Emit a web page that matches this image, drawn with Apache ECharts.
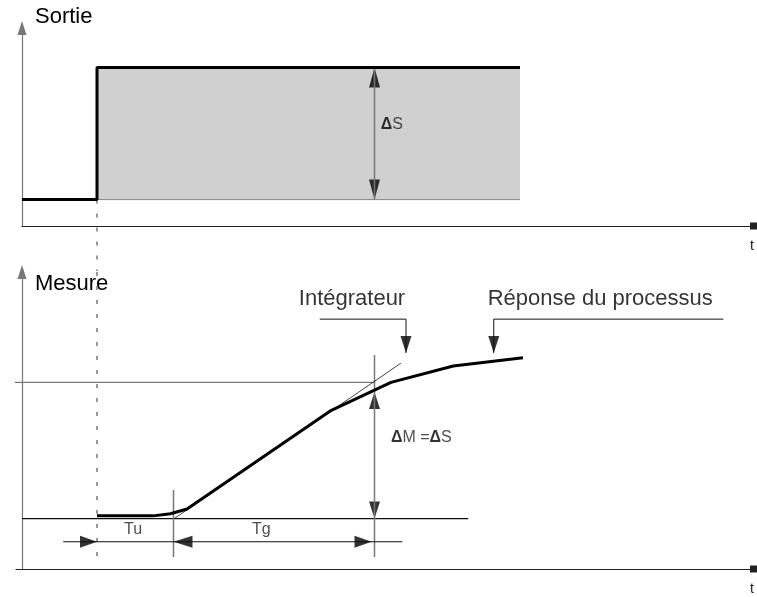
<!DOCTYPE html>
<html>
<head>
<meta charset="utf-8">
<title>Sortie / Mesure</title>
<script src="https://cdn.jsdelivr.net/npm/echarts@6/dist/echarts.min.js"></script>
<style>
  html, body { margin: 0; padding: 0; background: #fff; }
  #chart { width: 757px; height: 597px; }
</style>
</head>
<body>
<div id="chart"></div>
<script>
/* =========================================
   1. DATA (time t, output S, measure M)
   ========================================= */
const stepTime = 10;          // instant of the output step (dashed line)
const holdEnd = 66.4;         // end of the shaded output step
const outLow = 1;
const outHigh = 6;            // deltaS = 5
const outputStep = [[0, outLow], [stepTime, outLow], [stepTime, outHigh], [holdEnd, outHigh]];

const measLow = 1.85;
const measHigh = 6.85;        // deltaM = deltaS
const response = [
  [10, 1.95], [17.5, 1.95], [19.8, 2.03], [22, 2.2],
  [41.1, 5.8], [49.2, 6.85], [57.5, 7.45], [66.8, 7.75]
];
const integrator = [[20.3, 1.85], [50.5, 7.55]];

const tuEnd = 20.2;           // end of Tu / start of Tg
const tgEnd = 47;             // end of Tg, where deltaM is measured
const dimLevel = 1.0;         // level of the Tu / Tg dimension line
const leaderLevel = 9.17;
const leaderTip = 7.93;
const integratorLeader = [[39.7, leaderLevel], [51.2, leaderLevel], [51.2, leaderTip]];
const responseLeader = [[93.5, leaderLevel], [62.9, leaderLevel], [62.9, leaderTip]];

const topLabels = [{ name: "{d|Δ}S", value: [49.3, 3.86] }];
const bottomLabels = [
  { name: "Intégrateur", value: [44, 9.9], big: true },
  { name: "Réponse du processus", value: [77.1, 9.9], big: true },
  { name: "{d|Δ}M ={d|Δ}S", value: [49.2, 4.81], left: true },
  { name: "Tu", value: [14.8, 1.43] },
  { name: "Tg", value: [31.9, 1.43] }
];

/* =========================================
   2. HELPERS
   ========================================= */
const GRAY = "#777";

function seg(id, grid, points, color, width, extra) {
  return Object.assign({
    id: id,
    type: "line",
    xAxisIndex: grid,
    yAxisIndex: grid,
    data: points,
    symbol: "none",
    clip: false,
    silent: true,
    animation: false,
    lineStyle: { color: color, width: width }
  }, extra || {});
}

// arrow head: tip sits on the data point
function head(t, v, dir, w, h) {
  const rot = { up: 0, down: 180, left: 90, right: -90 }[dir];
  const off = {
    up: [0, h / 2], down: [0, -h / 2], left: [h / 2, 0], right: [-h / 2, 0]
  }[dir];
  return { value: [t, v], symbolRotate: rot, symbolOffset: off, symbolSize: [w, h] };
}

function labelSeries(id, grid, items) {
  return {
    id: id,
    type: "scatter",
    xAxisIndex: grid,
    yAxisIndex: grid,
    symbolSize: 0,
    silent: true,
    animation: false,
    data: items.map((d) => ({
      name: d.name,
      value: d.value,
      label: {
        show: true,
        position: "inside",
        formatter: "{b}",
        align: d.left ? "left" : "center",
        verticalAlign: "middle",
        fontFamily: "Liberation Sans, Arial, sans-serif",
        fontSize: d.big ? 22 : 16,
        color: d.big ? "#000" : "#222",
        rich: {
          d: { fontWeight: "bold", fontSize: 16, color: "#000", fontFamily: "Liberation Sans, Arial, sans-serif" }
        }
      }
    }))
  };
}

/* =========================================
   3. CHART
   ========================================= */
function initChart() {
  const chart = echarts.init(document.getElementById("chart"), null, { renderer: "canvas" });

  const font = "Liberation Sans, Arial, sans-serif";
  const xBase = {
    type: "value",
    max: 98,
    splitLine: { show: false },
    axisTick: { show: false },
    axisLabel: { show: false },
    axisLine: {
      lineStyle: { color: "#222", width: 1.2 },
      symbol: ["none", "rect"],
      symbolSize: [7, 7],
      symbolOffset: [0, -3.5]
    },
    name: "t",
    nameLocation: "end",
    nameGap: -5,
    nameTextStyle: {
      fontFamily: font, fontSize: 14, color: "#222",
      align: "center", verticalAlign: "top", padding: [13, 0, 0, 0]
    }
  };
  const yBase = {
    type: "value",
    min: 0,
    splitLine: { show: false },
    axisTick: { show: false },
    axisLabel: { show: false },
    axisLine: {
      onZero: true,
      lineStyle: { color: GRAY, width: 1.2 },
      symbol: ["none", "triangle"],
      symbolSize: [9, 14]
    },
    nameLocation: "end",
    nameTextStyle: {
      fontFamily: font, fontSize: 22, color: "#000",
      align: "left", verticalAlign: "middle", padding: [0, 0, 0, 13]
    }
  };

  const option = {
    backgroundColor: "#fff",
    animation: false,
    grid: [
      { left: 22, top: 28, width: 735, height: 198 },
      { left: 16, top: 272, width: 741, height: 297 }
    ],
    xAxis: [
      Object.assign({}, xBase, { gridIndex: 0, min: 0 }),
      Object.assign({}, xBase, { gridIndex: 1, min: -0.8 })
    ],
    yAxis: [
      Object.assign({}, yBase, { gridIndex: 0, max: 7.5, name: "Sortie", nameGap: 11 }),
      Object.assign({}, yBase, { gridIndex: 1, max: 10.9, name: "Mesure", nameGap: -12 })
    ],
    series: [
      // ---- top panel: output step ----
      seg("fillEdge", 0, [[stepTime, outLow], [holdEnd, outLow]], "#888", 1, {
        markArea: {
          silent: true,
          itemStyle: { color: "#d0d0d0" },
          data: [[{ coord: [stepTime, outLow] }, { coord: [holdEnd, outHigh] }]]
        }
      }),
      seg("dashTop", 0, [[stepTime, outLow], [stepTime, -1.7]], GRAY, 1.5, {
        lineStyle: { color: GRAY, width: 1.5, type: [4, 10] }
      }),
      seg("deltaS", 0, [[tgEnd, outLow], [tgEnd, outHigh]], GRAY, 1.5),
      seg("step", 0, outputStep, "#000", 3),
      {
        id: "headsTop", type: "scatter", xAxisIndex: 0, yAxisIndex: 0,
        symbol: "triangle", silent: true, itemStyle: { color: "#000" },
        data: [head(tgEnd, outHigh, "up", 11, 20), head(tgEnd, outLow, "down", 11, 20)]
      },
      labelSeries("labelsTop", 0, topLabels),

      // ---- bottom panel: measure response ----
      seg("dashBottom", 1, [[stepTime, 10.9], [stepTime, 0.44]], GRAY, 1.5, {
        lineStyle: { color: GRAY, width: 1.5, type: [4, 10] }
      }),
      seg("highLevel", 1, [[-1.6, measHigh], [tgEnd, measHigh]], GRAY, 1.2),
      seg("lowLevel", 1, [[0, measLow], [59.5, measLow]], "#111", 1.2),
      seg("tuLine", 1, [[tuEnd, 2.9], [tuEnd, 0.44]], GRAY, 1.5),
      seg("deltaM", 1, [[tgEnd, 7.85], [tgEnd, 0.44]], GRAY, 1.5),
      seg("dimension", 1, [[5.5, dimLevel], [50.7, dimLevel]], "#111", 1),
      seg("integrator", 1, integrator, "#111", 0.8),
      seg("response", 1, response, "#000", 3),
      seg("leaderInt", 1, integratorLeader, "#111", 1),
      seg("leaderResp", 1, responseLeader, "#111", 1),
      {
        id: "headsBottom", type: "scatter", xAxisIndex: 1, yAxisIndex: 1,
        symbol: "triangle", silent: true, itemStyle: { color: "#000" },
        data: [
          head(tgEnd, 6.5, "up", 11, 17),
          head(tgEnd, measLow, "down", 11, 17),
          head(stepTime, dimLevel, "right", 12, 17),
          head(tuEnd, dimLevel, "left", 12, 19),
          head(46.6, dimLevel, "right", 12, 17),
          head(51.2, leaderTip, "down", 11, 17),
          head(62.9, leaderTip, "down", 11, 17)
        ]
      },
      labelSeries("labelsBottom", 1, bottomLabels)
    ]
  };

  chart.setOption(option);
}

document.addEventListener("DOMContentLoaded", () => {
  initChart();
});
</script>
</body>
</html>
